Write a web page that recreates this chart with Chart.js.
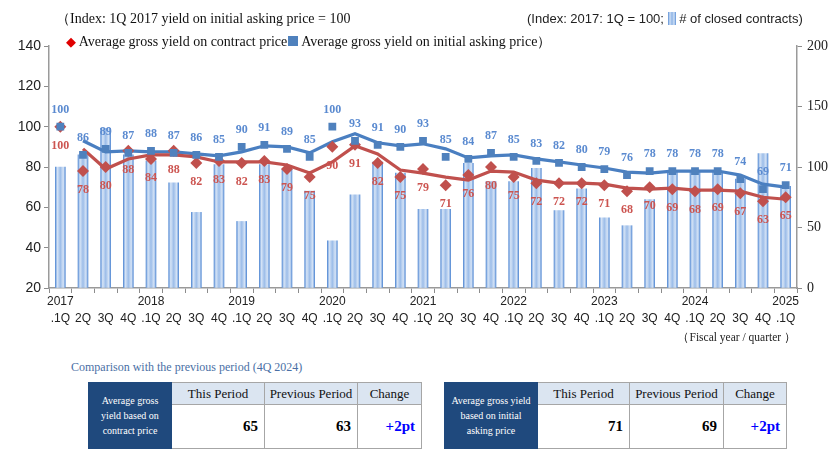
<!DOCTYPE html>
<html>
<head>
<meta charset="utf-8">
<script src="https://cdn.jsdelivr.net/npm/chart.js@4.4.1/dist/chart.umd.min.js"></script>
<style>
  html, body { margin:0; padding:0; background:#fff; }
  body { width:839px; height:457px; position:relative; overflow:hidden; }
  #wrap { position:absolute; left:0; top:0; width:839px; height:345px; }
  .t { position:absolute; white-space:nowrap; }
  .serif { font-family:"Liberation Serif","Times New Roman",serif; }
  .sans { font-family:"Liberation Sans",Arial,sans-serif; }
  .barIcon { display:inline-block; width:8px; height:13px; vertical-align:-2px;
    background:linear-gradient(to right,#5b8fd6 0%,#cfe0f5 25%,#8fb4e6 50%,#cfe0f5 75%,#5b8fd6 100%); }
  table { position:absolute; border-collapse:collapse; font-family:"Liberation Serif","Times New Roman",serif; }
  td { border:1px solid #a6a6a6; padding:0; }
  td.nav { background:#1f497d; color:#fff; font-size:10px; line-height:15px; text-align:center; border:1px solid #1f497d; }
  td.h { background:#dbe5f1; font-size:13px; text-align:center; height:21px; color:#111; }
  td.v { font-size:15px; font-weight:bold; text-align:right; padding-right:6px; height:43px; color:#000; }
  td.c { color:#0000ff; }
</style>
</head>
<body>
<div id="wrap"><canvas id="c" width="839" height="345"></canvas></div>

<div class="t serif" style="left:56px;top:10px;font-size:14px;color:#111;">（Index: 1Q 2017 yield on initial asking price = 100</div>
<div class="t serif" style="left:66px;top:33px;font-size:14px;color:#111;">
  <span style="color:#e00000;font-size:13px;">◆</span> Average gross yield on contract price<span style="display:inline-block;width:10px;height:10px;background:#4f81bd;margin:0 3px 0 1px;vertical-align:0px;"></span>Average gross yield on initial asking price）</div>
<div class="t sans" style="left:527px;top:11px;font-size:13px;color:#222;">(Index: 2017: 1Q = 100; <span class="barIcon"></span> # of closed contracts)</div>
<div class="t serif" style="right:43px;top:330px;font-size:11.5px;color:#222;">（Fiscal year / quarter ）</div>
<div class="t serif" style="left:71px;top:360px;font-size:12px;color:#4a6fa5;">Comparison with the previous period (4Q 2024)</div>

<table style="left:88px;top:382px;">
  <tr><td class="nav" rowspan="2" style="width:82px;">Average gross<br>yield based on<br>contract price</td>
      <td class="h" style="width:92px;">This Period</td><td class="h" style="width:92px;">Previous Period</td><td class="h" style="width:63px;">Change</td></tr>
  <tr><td class="v" id="a1"></td><td class="v" id="a2"></td><td class="v c" id="a3"></td></tr>
</table>
<table style="left:444px;top:382px;">
  <tr><td class="nav" rowspan="2" style="width:92px;">Average gross yield<br>based on initial<br>asking price</td>
      <td class="h" style="width:91px;">This Period</td><td class="h" style="width:93px;">Previous Period</td><td class="h" style="width:62px;">Change</td></tr>
  <tr><td class="v" id="b1"></td><td class="v" id="b2"></td><td class="v c" id="b3"></td></tr>
</table>

<script>
// ---- data ----
const years = ["2017","","","","2018","","","","2019","","","","2020","","","","2021","","","","2022","","","","2023","","","","2024","","","","2025"];
const quarters = [".1Q","2Q","3Q","4Q",".1Q","2Q","3Q","4Q",".1Q","2Q","3Q","4Q",".1Q","2Q","3Q","4Q",".1Q","2Q","3Q","4Q",".1Q","2Q","3Q","4Q",".1Q","2Q","3Q","4Q",".1Q","2Q","3Q","4Q",".1Q"];
const askingYield = [100,86,89,87,88,87,86,85,90,91,89,85,100,93,91,90,93,85,84,87,85,83,82,80,79,76,78,78,78,78,74,69,71];
const contractYield = [100,78,80,88,84,88,82,83,82,83,79,75,90,91,82,75,79,71,76,80,75,72,72,72,71,68,70,69,68,69,67,63,65];
const askingTrend = [null,93,87.5,88,87.5,87.5,86.5,85.5,87.5,90.5,90,87,92.5,96.5,92,90.5,91.5,89,84.5,85.5,86,84,82.5,81,79.5,77.5,77,78,78,78,76,71.5,70];
const contractTrend = [null,89,79,84,86,86,85,82.5,82.5,82.5,81,77,82.5,90.5,86.5,78.5,77,75,73.5,78,77.5,73.5,72,72,71.5,69.5,69,69.5,68.5,68.5,68,65,64];
const contracts = [100,110,132,110,105,87,62.5,102,55,102,98,80,39,77,104,95,65,65,103,88,88,99,64,82,58,51.5,73,96,96,96,90,111,84];
const leftTicks = [20,40,60,80,100,120,140];
const rightTicks = [0,50,100,150,200];
const tableContract = ["65","63","+2pt"];
const tableAsking = ["71","69","+2pt"];

["a1","a2","a3"].forEach((id,i)=>document.getElementById(id).textContent = tableContract[i]);
["b1","b2","b3"].forEach((id,i)=>document.getElementById(id).textContent = tableAsking[i]);

const labels = years.map((y,i)=>[y, quarters[i]]);
const BLUE = "#4f81bd", RED = "#c0504d";

function barFill(c) {
  const ch = c.chart;
  if (!ch.chartArea || !ch.scales.x) return "#a9c6ec";
  const x = ch.scales.x.getPixelForValue(c.dataIndex);
  const g = ch.ctx.createLinearGradient(x - 5, 0, x + 5, 0);
  g.addColorStop(0, "#5b8fd6");
  g.addColorStop(0.2, "#d6e4f6");
  g.addColorStop(0.5, "#9cbde9");
  g.addColorStop(0.8, "#d6e4f6");
  g.addColorStop(1, "#5b8fd6");
  return g;
}

const labelPlugin = {
  id: "valueLabels",
  afterDatasetsDraw(chart) {
    const ctx = chart.ctx;
    ctx.save();
    ctx.font = "bold 12px 'Liberation Serif', 'Times New Roman', serif";
    ctx.textAlign = "center";
    ctx.textBaseline = "middle";
    chart.data.datasets.forEach((ds, di) => {
      if (!ds.labelOffset) return;
      const meta = chart.getDatasetMeta(di);
      ctx.fillStyle = ds.labelColor;
      meta.data.forEach((pt, i) => {
        const v = ds.data[i];
        if (v == null) return;
        ctx.fillText(String(v), pt.x, pt.y + ds.labelOffset);
      });
    });
    ctx.restore();
  }
};

new Chart(document.getElementById("c"), {
  data: {
    labels: labels,
    datasets: [
      { type: "line", label: "asking markers", data: askingYield, yAxisID: "y", showLine: false,
        pointStyle: "rect", pointRadius: 5.5, pointBackgroundColor: BLUE, pointBorderColor: BLUE, pointBorderWidth: 0,
        order: 1, labelOffset: -17, labelColor: "#5a8ad0" },
      { type: "line", label: "contract markers", data: contractYield, yAxisID: "y", showLine: false,
        pointStyle: "rectRot", pointRadius: 6, pointBackgroundColor: RED, pointBorderColor: RED, pointBorderWidth: 0,
        order: 2, labelOffset: 19, labelColor: "#cc5450" },
      { type: "line", label: "asking trend", data: askingTrend, yAxisID: "y", borderColor: "#4a7fc1",
        borderWidth: 3.2, pointRadius: 0, tension: 0, order: 4 },
      { type: "line", label: "contract trend", data: contractTrend, yAxisID: "y", borderColor: "#c0504d",
        borderWidth: 3.2, pointRadius: 0, tension: 0, order: 3 },
      { type: "bar", label: "# of closed contracts", data: contracts, yAxisID: "y2",
        backgroundColor: barFill, barThickness: 10, order: 10 }
    ]
  },
  options: {
    responsive: false,
    animation: false,
    devicePixelRatio: 1,
    layout: { padding: { top: 46, left: 0, right: 0, bottom: 0 } },
    plugins: { legend: { display: false }, tooltip: { enabled: false } },
    scales: {
      x: {
        offset: true,
        grid: { offset: true, drawOnChartArea: false, drawTicks: true, tickLength: 5, color: "#8c8c8c" },
        border: { display: true, color: "#9a9a9a", width: 1.5 },
        ticks: { autoSkip: false, maxRotation: 0, padding: 0, color: "#222",
          font: { family: "'Liberation Sans Narrow','Liberation Sans',Arial,sans-serif", size: 12, lineHeight: 1.4 } },
        afterFit: s => { s.height = 57; }
      },
      y: {
        position: "left", min: 20, max: 140,
        afterBuildTicks: s => { s.ticks = leftTicks.map(v => ({ value: v })); },
        grid: { drawOnChartArea: false, drawTicks: true, tickLength: 5, color: "#8c8c8c" },
        border: { display: true, color: "#9a9a9a", width: 1.5 },
        ticks: { padding: 3, color: "#222", font: { family: "'Liberation Sans',Arial,sans-serif", size: 14 } },
        afterFit: s => { s.width = 49; }
      },
      y2: {
        position: "right", min: 0, max: 200,
        afterBuildTicks: s => { s.ticks = rightTicks.map(v => ({ value: v })); },
        grid: { drawOnChartArea: false, drawTicks: true, tickLength: 5, color: "#8c8c8c" },
        border: { display: true, color: "#9a9a9a", width: 1.5 },
        ticks: { padding: 5, color: "#222", font: { family: "'Liberation Serif','Times New Roman',serif", size: 14 } },
        afterFit: s => { s.width = 42; }
      }
    }
  },
  plugins: [labelPlugin]
});
</script>
</body>
</html>
